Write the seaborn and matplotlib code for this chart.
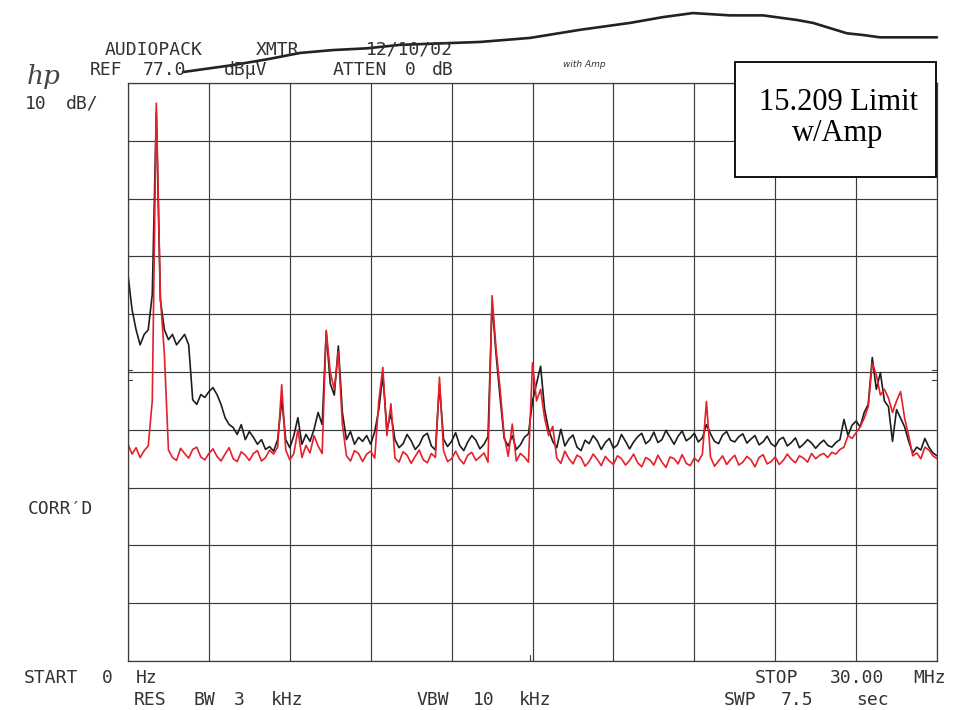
import numpy as np
import pandas as pd
import matplotlib
matplotlib.use("Agg")
import matplotlib.pyplot as plt
from matplotlib.patches import Rectangle
import seaborn as sns

# ---- sweep: 0-30 MHz, 201 trace points, levels in dBuV ----
start_mhz, stop_mhz = 0.0, 30.0
ref_level = 77.0
db_per_div = 10.0
freq_mhz = np.linspace(start_mhz, stop_mhz, 201)

# trace without amplifier (black)
level_black = [
    43.8, 37.8, 34.3, 31.7, 33.5, 34.3, 40.4, 72.0, 39.5, 34.3,
    32.6, 33.5, 31.7, 32.6, 33.5, 31.7, 22.2, 21.4, 23.1, 22.6,
    23.6, 24.3, 23.1, 21.4, 19.1, 17.9, 17.4, 16.2, 17.9, 15.3,
    16.7, 15.7, 14.5, 15.3, 13.6, 14.1, 13.3, 15.3, 22.2, 15.3,
    13.9, 16.0, 19.1, 14.5, 16.2, 15.0, 17.1, 20.0, 17.9, 34.0,
    25.0, 23.0, 31.5, 20.0, 15.3, 16.7, 14.5, 15.7, 15.0, 16.0,
    14.5, 16.7, 20.5, 26.4, 17.1, 19.7, 15.3, 13.9, 14.6, 16.2,
    15.1, 13.6, 14.4, 15.9, 16.4, 14.2, 13.5, 24.8, 15.4, 14.1,
    15.0, 16.5, 14.3, 13.4, 14.9, 16.0, 15.2, 13.7, 14.5, 15.8,
    39.0, 30.0, 22.5, 15.5, 14.2, 16.0, 13.6, 14.4, 15.7, 16.3,
    22.0, 25.0, 28.0, 20.5, 17.0, 15.0, 13.9, 17.1, 14.2, 15.4,
    16.1, 14.0, 13.4, 15.2, 14.6, 16.0, 15.1, 13.6, 14.8, 15.5,
    13.8, 14.4, 16.2, 15.0, 13.7, 14.9, 15.8, 16.4, 14.6, 15.2,
    16.6, 14.8, 15.3, 16.9, 15.7, 14.5, 15.9, 16.8, 15.1, 15.6,
    16.4, 14.9, 15.6, 17.9, 16.3, 15.0, 14.6, 16.1, 16.7, 15.2,
    14.9, 15.8, 16.3, 14.7, 15.4, 16.0, 14.4, 14.9, 15.9, 14.6,
    14.1, 15.3, 15.7, 14.2, 14.8, 15.6, 13.9, 14.5, 15.3, 14.7,
    13.8, 14.6, 15.2, 14.3, 14.0, 14.8, 15.3, 18.8, 16.0, 17.8,
    18.5, 17.5, 20.0, 21.4, 29.5, 24.0, 26.9, 22.0, 21.0, 15.0,
    20.5, 19.0, 17.5, 15.0, 13.0, 14.0, 13.5, 15.5, 14.0, 13.0,
    12.5,
]

# trace with amplifier (red)
level_red = [
    14.5, 12.8, 13.9, 12.2, 13.4, 14.2, 22.0, 73.5, 40.0, 30.0,
    13.5, 12.2, 11.7, 13.8, 12.9, 12.1, 13.6, 14.0, 12.3, 11.8,
    12.9, 13.7, 12.4, 11.6, 12.8, 13.9, 12.0, 11.5, 13.2, 12.6,
    11.7, 12.9, 13.4, 11.6, 12.2, 13.5, 12.8, 14.0, 24.8, 13.5,
    11.8, 12.9, 17.0, 12.2, 14.3, 13.0, 16.0, 14.2, 12.9, 34.2,
    27.0, 24.0, 30.5, 18.0, 12.5, 11.6, 13.4, 12.9, 11.5, 12.8,
    13.3, 12.1, 22.0, 27.8, 16.0, 21.5, 12.1, 11.4, 13.2, 12.6,
    11.2, 12.4, 13.5, 11.8, 11.3, 12.9, 12.2, 26.1, 13.4, 11.5,
    12.0, 13.3, 11.9, 11.1, 12.6, 13.1, 11.7, 12.3, 13.0, 11.4,
    40.2, 31.0, 24.0, 16.0, 12.4, 18.0, 11.6, 12.9, 12.3, 11.4,
    28.6, 22.0, 24.0, 19.0, 16.0, 17.6, 12.1, 11.2, 13.3, 12.0,
    11.1, 12.6, 12.2, 10.7, 11.5, 12.8, 11.9, 10.8, 12.4, 11.6,
    11.0, 12.5, 12.0, 10.9, 11.7, 12.8, 11.3, 10.6, 12.2, 11.8,
    10.9, 12.6, 11.4, 10.5, 12.3, 12.0, 11.1, 12.7, 11.2, 10.8,
    12.1, 11.5, 12.8, 21.9, 12.3, 10.7, 11.6, 12.5, 11.0, 11.9,
    12.6, 10.9, 11.4, 12.4, 11.8, 10.6, 12.2, 12.7, 11.1, 11.5,
    12.3, 11.0, 11.7, 12.8, 11.9, 11.3, 12.5, 12.1, 11.4, 12.9,
    12.0, 12.6, 12.9, 12.2, 13.1, 12.8, 13.6, 14.0, 16.0, 15.5,
    16.5, 17.5, 19.0, 21.0, 28.5, 26.5, 23.0, 24.0, 22.5, 20.0,
    22.0, 23.6, 19.0, 16.0, 12.5, 13.0, 12.0, 14.0, 13.5, 12.5,
    12.0,
]

# hand-drawn 15.209 limit line (MHz, dBuV), sketched above the graticule
limit_mhz = [2.04, 3.89, 5.16, 6.38, 7.60, 8.86, 10.09, 13.05, 14.91, 16.76,
             18.62, 19.84, 20.95, 22.32, 23.55, 24.81, 25.40, 26.03, 26.66,
             27.26, 27.89, 30.0]
limit_db = [78.9, 80.1, 81.1, 82.2, 82.7, 83.0, 83.6, 84.1, 84.8, 86.2,
            87.4, 88.4, 89.1, 88.7, 88.7, 87.9, 87.4, 86.5, 85.6,
            85.3, 84.9, 84.9]

traces = pd.concat([
    pd.DataFrame({"freq": freq_mhz, "level": level_black, "trace": "no amp"}),
    pd.DataFrame({"freq": freq_mhz, "level": level_red, "trace": "with amp"}),
], ignore_index=True)

sns.set_style("white")
plt.rcParams["font.family"] = ["DejaVu Sans Mono", "DejaVu Sans"]

W, H = 955, 710
fig = plt.figure(figsize=(W / 100, H / 100), dpi=100)
fig.patch.set_facecolor("white")
ax = fig.add_axes([128 / W, 1 - 661 / H, 809 / W, 578 / H])

grid_col = "#3c3c3c"
bottom_level = ref_level - 10 * db_per_div
ax.set_xlim(start_mhz, stop_mhz)
ax.set_ylim(bottom_level, ref_level)
ax.set_xticks(np.linspace(start_mhz, stop_mhz, 11))
ax.set_yticks(np.linspace(bottom_level, ref_level, 11))
ax.grid(True, color=grid_col, linewidth=0.85)
ax.tick_params(length=0, labelbottom=False, labelleft=False)
for sp in ax.spines.values():
    sp.set_color(grid_col)
    sp.set_linewidth(0.9)

sns.lineplot(data=traces, x="freq", y="level", hue="trace",
             hue_order=["no amp", "with amp"],
             palette={"no amp": "#1e1e1e", "with amp": "#e5202a"},
             estimator=None, sort=False, legend=False, linewidth=1.2, ax=ax)
ax.set_xlabel("")
ax.set_ylabel("")

# reference-level markers on both edges and centre-frequency mark
mid = ref_level - 5 * db_per_div
for x0, x1 in [(0.0, 0.15), (29.8, 30.0)]:
    for dy in (0.3, -1.4):
        ax.plot([x0, x1], [mid + dy, mid + dy], color=grid_col, lw=0.8)
ax.plot([14.9, 14.9], [bottom_level, bottom_level + 1.0], color=grid_col, lw=0.8)
ax.plot([15.0, 15.0], [bottom_level, bottom_level + 1.0], color=grid_col, lw=0.8)

# limit line drawn by hand above the display
ax.plot(limit_mhz, limit_db, color="#222222", lw=1.9, clip_on=False,
        solid_capstyle="round", zorder=5)


def put(x, y, s, **kw):
    kw.setdefault("ha", "center")
    kw.setdefault("va", "baseline")
    kw.setdefault("color", "#333333")
    fig.text(x / W, 1 - y / H, s, **kw)


mono = dict(fontsize=13, family=["DejaVu Sans Mono", "DejaVu Sans"])

# header annotation
put(154, 55, "AUDIOPACK", **mono)
put(278, 55, "XMTR", **mono)
put(409, 55, "12/10/02", **mono)
put(106, 75, "REF", **mono)
put(164, 75, "77.0", **mono)
put(246, 75, "dB\u00b5V", **mono)
put(360, 75, "ATTEN", **mono)
put(410, 75, "0", **mono)
put(443, 75, "dB", **mono)
put(44, 84, "hp", fontsize=19, style="italic", family="DejaVu Serif",
    color="#444444")
put(36, 109, "10", **mono)
put(82, 109, "dB/", **mono)
put(60, 514, "CORR\u2032D", **mono)
put(584, 67, "with Amp", fontsize=6.5, style="italic", family="DejaVu Sans",
    color="#333333")

# footer annotation
put(51, 683, "START", **mono)
put(107, 683, "0", **mono)
put(147, 683, "Hz", **mono)
put(777, 683, "STOP", **mono)
put(857, 683, "30.00", **mono)
put(930, 683, "MHz", **mono)
put(150, 705, "RES", **mono)
put(204, 705, "BW", **mono)
put(239, 705, "3", **mono)
put(287, 705, "kHz", **mono)
put(433, 705, "VBW", **mono)
put(484, 705, "10", **mono)
put(535, 705, "kHz", **mono)
put(740, 705, "SWP", **mono)
put(797, 705, "7.5", **mono)
put(872, 705, "sec", **mono)

# limit label box
fig.patches.append(Rectangle((735 / W, 1 - 177 / H), 201 / W, 115 / H,
                             transform=fig.transFigure, facecolor="white",
                             edgecolor="black", linewidth=1.3, zorder=10))
put(838, 110, "15.209 Limit", fontsize=22, family="Liberation Serif",
    color="black", zorder=11)
put(838, 141, "w/Amp", fontsize=22, family="Liberation Serif",
    color="black", zorder=11)

fig.savefig("out.png", dpi=100, facecolor="white")
